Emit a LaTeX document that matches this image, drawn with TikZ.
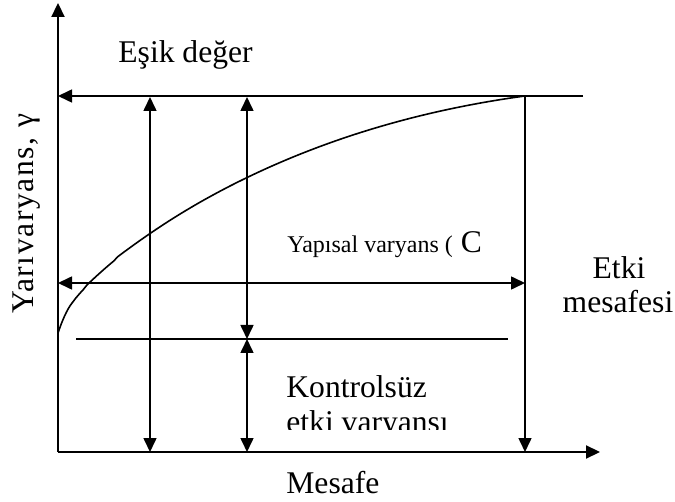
\documentclass[tikz,border=0pt]{standalone}
\usepackage{fontspec}
\setmainfont{Liberation Serif}
\usetikzlibrary{arrows.meta}

\begin{document}
\begin{tikzpicture}[
    x=0.5pt, y=-0.5pt, % pixel-like units, y pointing down
    >={Triangle[length=7pt, width=6.5pt]}, % filled arrow tips
    axis/.style={line width=1.1pt},
    guide/.style={line width=0.8pt},
    lbl/.style={font=\fontsize{15.8}{18}\selectfont, inner sep=0pt, anchor=base west},
    smalllbl/.style={font=\fontsize{12}{14}\selectfont, inner sep=0pt}
]
\useasboundingbox (0,0) rectangle (675,502);

% Axes
\coordinate (O) at (58,452);
\coordinate (ytop) at (58,3);
\coordinate (xend) at (600,452);
\draw[axis, ->] (O) -- (ytop);
\draw[axis, ->] (O) -- (xend);

% Sill line and range
\coordinate (sillL) at (58,96);
\coordinate (sillR) at (583,96);
\coordinate (range) at (525,96);
\coordinate (rangeB) at (525,452);
\draw[guide, ->] (sillR) -- (sillL);
\draw[guide, ->] (range) -- (rangeB);

% Nugget level
\coordinate (nugL) at (76,339);
\coordinate (nugR) at (508,339);
\draw[line width=0.6pt] (nugL) -- (nugR);

% Vertical double arrows
\coordinate (sA) at (150,97);
\coordinate (sB) at (150,452);
\coordinate (cA) at (247,97);
\coordinate (cB) at (247,339);
\coordinate (nB) at (247,452);
\draw[guide, <->] (sA) -- (sB);
\draw[guide, <->] (cA) -- (cB);
\draw[guide, <->] (nB) -- (cB);

% Horizontal double arrow (structural variance)
\coordinate (hL) at (58,283);
\coordinate (hR) at (525,283);
\draw[guide, <->] (hL) -- (hR);

% Semivariogram curve, from (58,333) up to the sill at (525,96)
\coordinate (c0) at (58,333);
\coordinate (c1) at (72,303.07);
\draw[guide] (c0) .. controls (62,321) and (67,309.4) .. (c1)
    -- plot[domain=0.03:1, samples=120]
    ({58+467*\x},{333-237*exp((0.6-0.33*\x)*ln(\x))});

% Labels
\node[lbl] (esik) at (118,63) {Eşik değer};
\node[smalllbl, anchor=base west] (yapi) at (287,253)
    {Yapısal varyans (\hspace{4pt}\fontsize{15.8}{18}\selectfont C};
\node[lbl, anchor=base] (etki) at (619,279) {Etki};
\node[lbl, anchor=base] (mes) at (618,313) {mesafesi};
\begin{scope}
    \clip (270,360) rectangle (480,429); % second line is cut off
    \node[lbl] (kont) at (286,397) {Kontrolsüz};
    \node[lbl] (etkiv) at (286,432) {etki varyansı};
\end{scope}
\node[lbl] (mesafe) at (286,493) {Mesafe};
\node[lbl, anchor=base, rotate=90, font=\fontsize{15.8}{18}\selectfont\addfontfeature{LetterSpace=5}]
    (yari) at (33,214) {Yarıvaryans, γ};

\end{tikzpicture}
\end{document}
